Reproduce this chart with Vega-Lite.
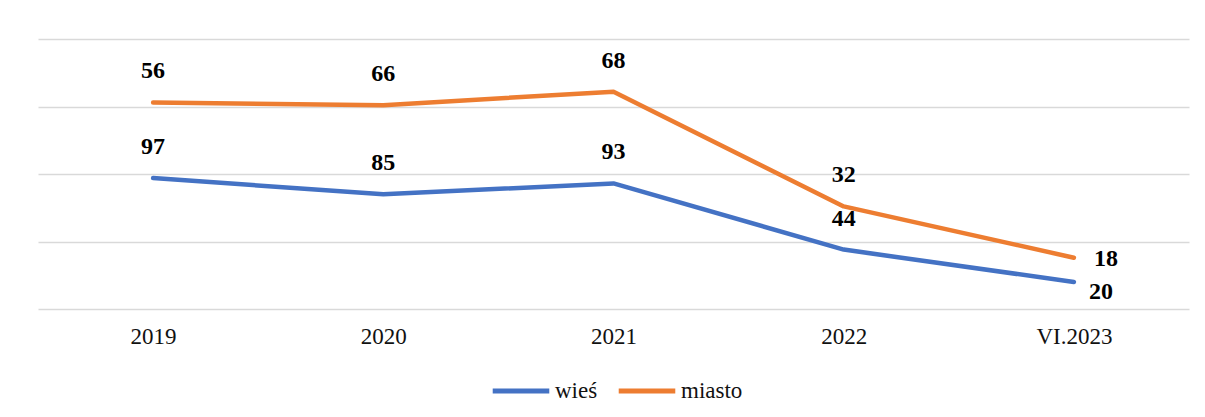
{
  "$schema": "https://vega.github.io/schema/vega-lite/v6.json",
  "width": 1151,
  "height": 270,
  "autosize": {"type": "none"},
  "padding": {"left": 38, "top": 39, "right": 16, "bottom": 108},
  "background": "white",
  "config": {
    "view": {"stroke": null},
    "font": "Liberation Serif"
  },
  "data": {
    "values": [
      {"year": "2019", "series": "wieś", "value": 97},
      {"year": "2020", "series": "wieś", "value": 85},
      {"year": "2021", "series": "wieś", "value": 93},
      {"year": "2022", "series": "wieś", "value": 44},
      {"year": "VI.2023", "series": "wieś", "value": 20},
      {"year": "2019", "series": "miasto", "value": 56},
      {"year": "2020", "series": "miasto", "value": 66},
      {"year": "2021", "series": "miasto", "value": 68},
      {"year": "2022", "series": "miasto", "value": 32},
      {"year": "VI.2023", "series": "miasto", "value": 18}
    ]
  },
  "transform": [
    {"stack": "value", "groupby": ["year"], "sort": [{"field": "series", "order": "descending"}], "as": ["v0", "v1"]}
  ],
  "encoding": {
    "x": {
      "field": "year", "type": "ordinal",
      "sort": ["2019", "2020", "2021", "2022", "VI.2023"],
      "scale": {"type": "point", "padding": 0.5},
      "axis": {"title": null, "domain": false, "ticks": false, "tickSize": 0, "labelPadding": 16, "labelFont": "Liberation Serif", "labelFontSize": 23, "labelColor": "#111", "labelAngle": 0, "grid": false}
    },
    "y": {
      "field": "v1", "type": "quantitative",
      "scale": {"domain": [0, 200], "nice": false, "zero": true},
      "axis": {"title": null, "domain": false, "ticks": false, "labels": false, "grid": true, "gridColor": "#d9d9d9", "gridWidth": 1.5, "values": [0, 50, 100, 150, 200]}
    }
  },
  "layer": [
    {
      "mark": {"type": "line", "strokeWidth": 4.5, "strokeCap": "round", "strokeJoin": "round"},
      "encoding": {
        "color": {
          "field": "series", "type": "nominal",
          "scale": {"domain": ["wieś", "miasto"], "range": ["#4472C4", "#ED7D31"]},
          "legend": {
            "title": null, "orient": "none", "direction": "horizontal",
            "legendX": 452, "legendY": 321,
            "symbolType": "stroke", "symbolSize": 3200, "symbolStrokeWidth": 5,
            "labelFont": "Liberation Serif", "labelFontSize": 23, "labelColor": "#111",
            "labelOffset": 3, "columnPadding": 10
          }
        }
      }
    },
    {
      "transform": [{"filter": "datum.year != 'VI.2023'"}],
      "mark": {"type": "text", "dy": -31, "fontWeight": "bold", "fontSize": 24, "font": "Liberation Serif", "color": "#000"},
      "encoding": {"text": {"field": "value", "type": "quantitative"}}
    },
    {
      "transform": [{"filter": "datum.year == 'VI.2023' && datum.series == 'miasto'"}],
      "mark": {"type": "text", "dx": 32, "dy": 1, "fontWeight": "bold", "fontSize": 24, "font": "Liberation Serif", "color": "#000"},
      "encoding": {"text": {"field": "value", "type": "quantitative"}}
    },
    {
      "transform": [{"filter": "datum.year == 'VI.2023' && datum.series == 'wieś'"}],
      "mark": {"type": "text", "dx": 27, "dy": 10, "fontWeight": "bold", "fontSize": 24, "font": "Liberation Serif", "color": "#000"},
      "encoding": {"text": {"field": "value", "type": "quantitative"}}
    }
  ]
}
